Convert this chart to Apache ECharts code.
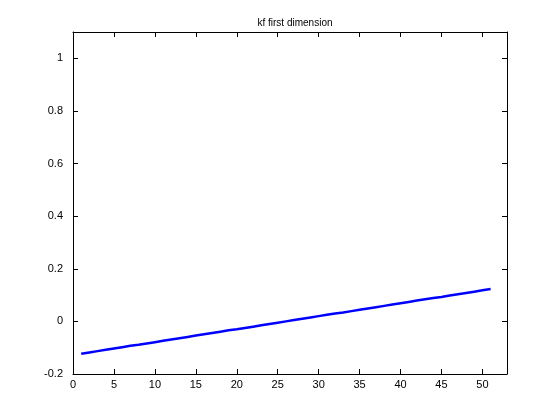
<!DOCTYPE html>
<html><head><meta charset="utf-8">
<script src="https://cdn.jsdelivr.net/npm/echarts@6/dist/echarts.min.js"></script>
<style>html,body{margin:0;padding:0;background:#fff}#c{width:560px;height:420px}</style>
</head><body><div id="c"></div>
<script>
const xValues = [1,2,3,4,5,6,7,8,9,10,11,12,13,14,15,16,17,18,19,20,21,22,23,24,25,26,27,28,29,30,31,32,33,34,35,36,37,38,39,40,41,42,43,44,45,46,47,48,49,50,51];
const yValues = [-0.123,-0.118,-0.113,-0.108,-0.103,-0.098,-0.093,-0.089,-0.084,-0.079,-0.074,-0.069,-0.064,-0.059,-0.054,-0.049,-0.044,-0.039,-0.034,-0.030,-0.025,-0.020,-0.015,-0.010,-0.005,0.000,0.005,0.010,0.015,0.020,0.025,0.030,0.034,0.039,0.044,0.049,0.054,0.059,0.064,0.069,0.074,0.079,0.084,0.089,0.093,0.098,0.103,0.108,0.113,0.118,0.123];
const titleText = "kf first dimension";

const font = "'Liberation Sans', Arial, Helvetica, sans-serif";
const axisCommon = {
  axisLine: {show: true, onZero: false, lineStyle: {color: '#000', width: 1}},
  axisTick: {show: true, inside: true, length: 5, lineStyle: {color: '#000'}},
  splitLine: {show: false}
};
const chart = echarts.init(document.getElementById('c'));
chart.setOption({
  animation: false,
  backgroundColor: '#fff',
  title: {text: titleText, left: 290, textAlign: 'center', top: 13,
    textStyle: {fontFamily: font, fontSize: 10, fontWeight: 'normal', color: '#000'}},
  grid: {left: 73, right: 53, top: 32, bottom: 46, containLabel: false},
  xAxis: [
    Object.assign({type: 'value', min: 0, max: 53, interval: 5, position: 'bottom',
      axisLabel: {showMaxLabel: false, color: '#000', fontFamily: font, fontSize: 11, margin: 5}}, axisCommon),
    Object.assign({type: 'value', min: 0, max: 53, interval: 5, position: 'top',
      axisLabel: {show: false}}, axisCommon)
  ],
  yAxis: [
    Object.assign({type: 'value', min: -0.2, max: 1.1, interval: 0.2, position: 'left',
      axisLabel: {showMaxLabel: false, color: '#000', fontFamily: font, fontSize: 11, margin: 10}}, axisCommon),
    Object.assign({type: 'value', min: -0.2, max: 1.1, interval: 0.2, position: 'right',
      axisLabel: {show: false}}, axisCommon)
  ],
  series: [{
    type: 'line',
    data: xValues.map((x, i) => [x, yValues[i]]),
    showSymbol: false,
    lineStyle: {color: '#0000ff', width: 2.5},
    itemStyle: {color: '#0000ff'}
  }]
});
</script></body></html>
